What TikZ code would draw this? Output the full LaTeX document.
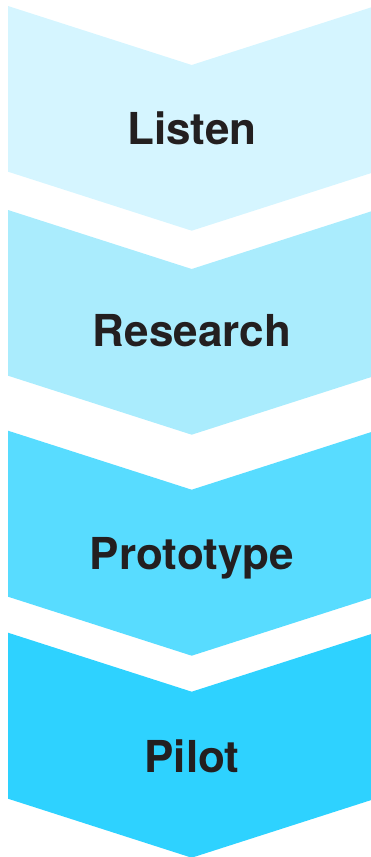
\documentclass[tikz,border=0pt]{standalone}
\usepackage{fontspec}
\setmainfont{TeX Gyre Heros}
\definecolor{stepA}{RGB}{213,245,255}
\definecolor{stepB}{RGB}{170,236,253}
\definecolor{stepC}{RGB}{88,220,255}
\definecolor{stepD}{RGB}{46,210,255}
\definecolor{ink}{RGB}{35,31,32}
\begin{document}
\begin{tikzpicture}[x=1pt,y=-1pt,
  steplabel/.style={anchor=base,inner sep=0pt,text=ink,
    font=\fontsize{44}{48}\selectfont\bfseries}]
  \useasboundingbox (0,0) rectangle (371,857);
  \clip (0,0) rectangle (371,857);
  % chevron band: #1 top edge, #2 bottom edge, #3 fill
  \newcommand\chevband[3]{%
    \fill[#3] (8,#1) -- (191.7,#1+59) -- (375.4,#1) -- (375.4,#2)
      -- (191.7,#2+59) -- (8,#2) -- cycle;}
  \chevband{6}{171.7}{stepA}
  \chevband{210}{375.7}{stepB}
  \chevband{430.7}{596.7}{stepC}
  \chevband{632.7}{798.7}{stepD}
  \node[steplabel] (listen)    at (192,144)   {Listen};
  \node[steplabel] (research)  at (192,346.7) {Research};
  \node[steplabel] (prototype) at (192,569)   {Prototype};
  \node[steplabel] (pilot)     at (192,772.3) {Pilot};
\end{tikzpicture}
\end{document}
